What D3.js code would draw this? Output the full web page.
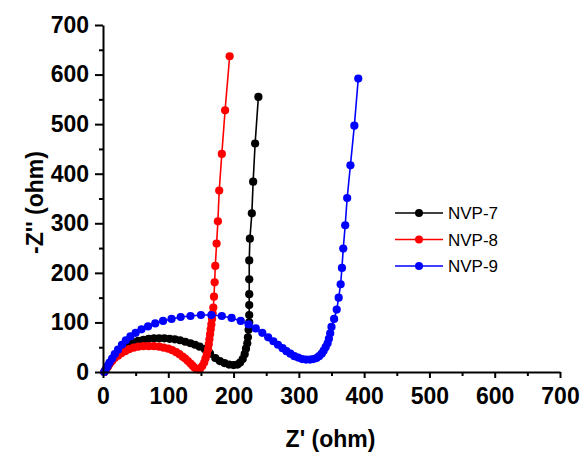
<html>
<head>
<meta charset="utf-8">
<title>NVP EIS</title>
<style>
  body { margin: 0; background: #fff; }
  text { font-family: "Liberation Sans", Arial, sans-serif; }
</style>
</head>
<body>
<div id="chart"></div>
<script src="https://cdn.jsdelivr.net/npm/d3@7"></script>
<script>
// Nyquist data: [Z', -Z''] in ohm
var nvp7 = [[2,0],[4,4],[7,10],[10,17],[14,25],[18,32],[23,39],[28,45],[34,51],[40,56],[47,60],[54,63],[62,65],[70,67],[78,68],[86,68],[94,68],[102,67],[110,66],[118,64],[126,61],[134,58],[141,55],[148,51],[156,46],[164,37],[172,28],[179,22],[186,18],[193,15],[200,14],[206,15],[210,19],[214,26],[217,36],[219,47],[221,58],[222,70],[223,85],[224,100],[224,115],[224,135],[224,157],[224,187],[224,225],[225,269],[228,320],[230,384],[233,461],[238,555]];
var nvp8 = [[2,0],[4,4],[7,10],[10,16],[14,22],[18,28],[23,33],[28,38],[34,42],[40,46],[47,49],[54,51],[62,52],[70,52],[78,52],[86,51],[93,49],[100,47],[106,44],[112,40],[117,36],[122,31],[126,27],[130,22],[134,17],[137,13],[140,9],[143,6],[146,5],[149,7],[152,12],[155,19],[157,27],[159,36],[161,46],[162,56],[163,66],[164,76],[165,86],[166,96],[167,107],[168,118],[169,130],[170,152],[171,181],[172,214],[174,259],[176,304],[178,366],[182,440],[187,528],[194,637]];
var nvp9 = [[2,0],[4,5],[7,12],[10,19],[14,27],[18,36],[23,45],[29,55],[35,64],[42,72],[50,79],[59,86],[69,92],[80,98],[92,103],[105,107],[119,111],[134,113],[150,115],[166,115],[182,113],[197,109],[211,103],[223,96],[234,88],[244,79],[253,70],[261,62],[268,55],[275,48],[281,42],[287,37],[293,32],[299,29],[305,26],[311,25],[317,25],[322,26],[327,28],[331,32],[335,37],[338,43],[341,50],[344,58],[346,67],[348,78],[350,91],[354,107],[358,126],[361,150],[364,177],[366,210],[368,249],[371,296],[374,351],[379,417],[385,497],[391,592]];

var seriesNames = ["NVP-7", "NVP-8", "NVP-9"];
var seriesColors = ["#000000", "#ff0000", "#0000ff"];
var seriesData = [nvp7, nvp8, nvp9];

var majorTicks = [0, 100, 200, 300, 400, 500, 600, 700];
var minorTicks = [50, 150, 250, 350, 450, 550, 650];

var width = 588, height = 459;
var plotLeft = 103, plotRight = 560, plotTop = 25, plotBottom = 372;

var svg = d3.select("#chart").append("svg")
    .attr("width", width)
    .attr("height", height);

var x = d3.scaleLinear().domain([0, 700]).range([plotLeft, plotRight]);
var y = d3.scaleLinear().domain([0, 700]).range([plotBottom, plotTop]);

// series
var line = d3.line().x(function(d){ return x(d[0]); }).y(function(d){ return y(d[1]); });
seriesData.forEach(function(data, i) {
  var g = svg.append("g");
  g.append("path").datum(data)
    .attr("d", line)
    .attr("fill", "none")
    .attr("stroke", seriesColors[i])
    .attr("stroke-width", 1.6);
  g.selectAll("circle").data(data).enter().append("circle")
    .attr("cx", function(d){ return x(d[0]); })
    .attr("cy", function(d){ return y(d[1]); })
    .attr("r", 4.1)
    .attr("fill", seriesColors[i]);
});

// axes (major + minor ticks, outward)
svg.append("g").attr("transform", "translate(0," + plotBottom + ")")
  .call(d3.axisBottom(x).tickValues(majorTicks).tickSize(6).tickSizeOuter(0).tickPadding(10));
svg.append("g").attr("transform", "translate(0," + plotBottom + ")")
  .call(d3.axisBottom(x).tickValues(minorTicks).tickSize(4).tickFormat(""))
  .select(".domain").remove();

svg.append("g").attr("transform", "translate(" + plotLeft + ",0)")
  .call(d3.axisLeft(y).tickValues(majorTicks).tickSize(8).tickSizeOuter(0).tickPadding(6));
svg.append("g").attr("transform", "translate(" + plotLeft + ",0)")
  .call(d3.axisLeft(y).tickValues(minorTicks).tickSize(4).tickFormat(""))
  .select(".domain").remove();

svg.selectAll(".domain").attr("stroke-width", 2);
svg.selectAll(".tick line").attr("stroke-width", 2);
svg.selectAll(".tick text")
  .style("font-family", "'Liberation Sans', Arial, sans-serif")
  .style("font-size", "23px")
  .style("font-weight", "bold")
  .attr("fill", "#000");

// axis titles
svg.append("text")
  .attr("x", (plotLeft + plotRight) / 2 - 1)
  .attr("y", 447)
  .attr("text-anchor", "middle")
  .style("font-size", "23px")
  .style("font-weight", "bold")
  .text("Z' (ohm)");

svg.append("text")
  .attr("transform", "translate(43," + ((plotTop + plotBottom) / 2 + 4) + ") rotate(-90)")
  .attr("text-anchor", "middle")
  .style("font-size", "23px")
  .style("font-weight", "bold")
  .text("-Z'' (ohm)");

// legend
var legend = svg.append("g").attr("transform", "translate(395,213)");
seriesNames.forEach(function(name, i) {
  var row = legend.append("g").attr("transform", "translate(0," + (i * 26.5) + ")");
  row.append("line").attr("x1", 0).attr("x2", 48).attr("y1", 0).attr("y2", 0)
    .attr("stroke", seriesColors[i]).attr("stroke-width", 1.6);
  row.append("circle").attr("cx", 24).attr("cy", 0).attr("r", 4).attr("fill", seriesColors[i]);
  row.append("text").attr("x", 53).attr("y", 6)
    .style("font-size", "17px")
    .text(name);
});
</script>
</body>
</html>
